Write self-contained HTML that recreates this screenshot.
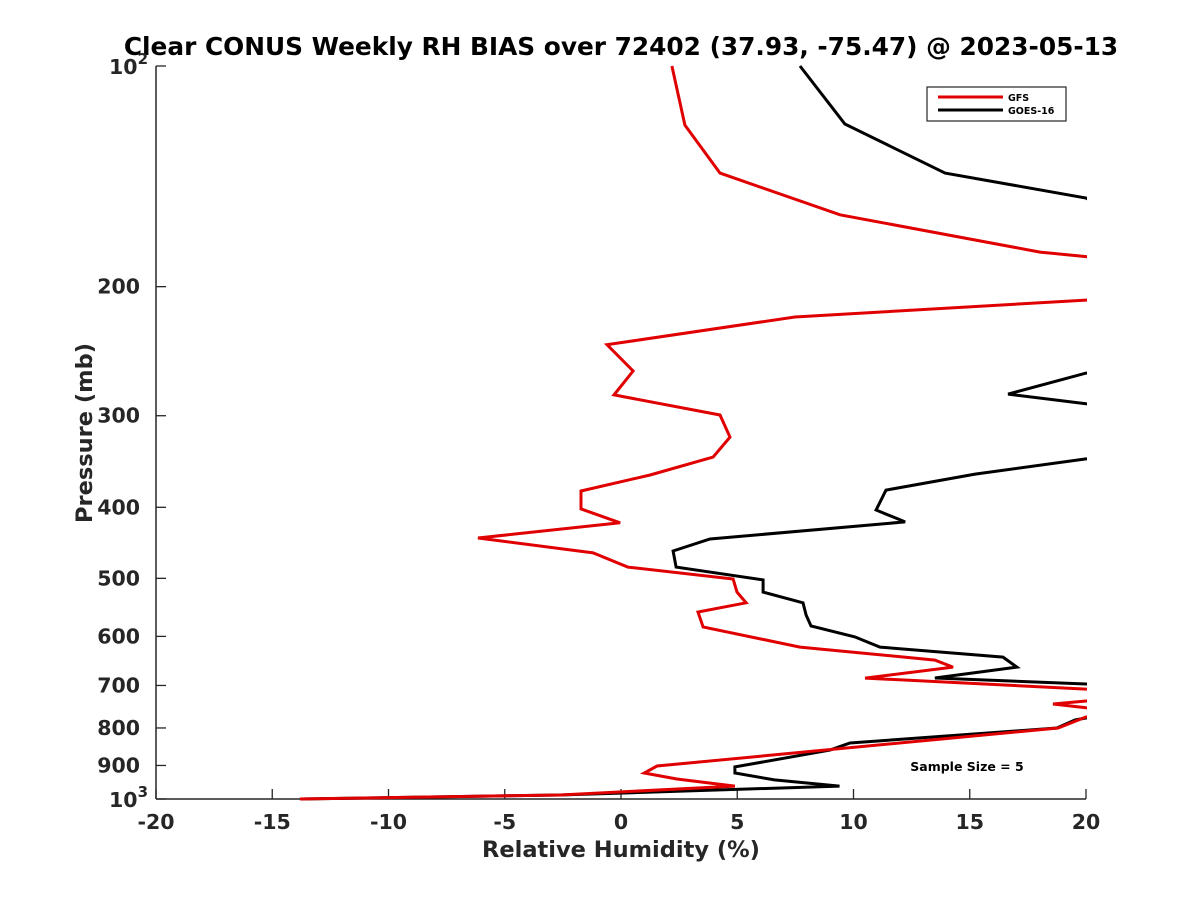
<!DOCTYPE html>
<html><head><meta charset="utf-8"><style>
body{margin:0;background:#fff;}
svg{display:block;font-family:"DejaVu Sans","Liberation Sans",sans-serif;font-weight:bold;}
</style></head><body>
<svg id="chart" width="1200" height="900" viewBox="0 0 1200 900">
<defs><clipPath id="plotclip"><rect x="156" y="60" width="931" height="742"/></clipPath></defs>
<text x="621" y="55" text-anchor="middle" font-size="24.8" fill="#000">Clear CONUS Weekly RH BIAS over 72402 (37.93, -75.47) @ 2023-05-13</text>
<g id="axes"></g>
<g id="series" clip-path="url(#plotclip)"></g>
<text transform="translate(92,433) rotate(-90)" text-anchor="middle" font-size="22.5" fill="#262626">Pressure (mb)</text>
<text x="621" y="857" text-anchor="middle" font-size="22.5" fill="#262626">Relative Humidity (%)</text>
<g>
<rect x="927" y="87" width="139" height="34" fill="#fff" stroke="#262626" stroke-width="1.2"/>
<line x1="938" y1="97" x2="1003" y2="97" stroke="#e00000" stroke-width="3"/>
<text x="1008" y="101" font-size="9.5" fill="#000">GFS</text>
<line x1="938" y1="110" x2="1003" y2="110" stroke="#000" stroke-width="3"/>
<text x="1008" y="114" font-size="9.5" fill="#000">GOES-16</text>
</g>
<text x="967" y="771" text-anchor="middle" font-size="12.5" fill="#000">Sample Size = 5</text>
</svg>
<script>
const xTicks=[-20,-15,-10,-5,0,5,10,15,20];
const yTicks=[100,200,300,400,500,600,700,800,900,1000];
const yTickLabels=["10|2","200","300","400","500","600","700","800","900","10|3"];
const gfsRH=[2.19,2.75,4.26,9.42,18.02,20,26,26,20,7.48,-0.6,0.52,-0.3,4.26,4.69,3.96,1.25,-1.72,-1.72,-0.04,-6.15,-1.2,0.3,4.82,4.99,5.38,3.31,3.53,7.7,13.5,14.28,10.5,20,26,26,20,18.58,20,26,26,20,18.8,1.55,1.0,2.4,4.9,-2.62,-13.81];
const gfsP=[100,120.4,140,159.6,179.4,182,190,205,208.6,220,240,260.7,281,299.3,320.8,341.6,361.4,380,402,420,440.5,461.6,482.6,501,522,540,555.8,582.6,620.5,646.5,660.7,684,708,715,730,735,742,751,760,770,773,800,901.6,921.5,939,960.4,987.5,1000];
const goesRH=[7.7,9.63,13.94,20,26,26,20,16.65,20,26,26,20,15.23,11.4,10.97,12.22,3.83,2.24,2.37,6.11,6.11,7.83,7.96,8.17,10.06,11.14,16.43,17.03,13.5,20,26,26,20,19.53,18.75,9.85,8.99,4.9,4.9,6.6,9.4,-2.62,-13.81];
const goesP=[100,120,140,151.4,200,260,262.4,280.3,289,300,330,343.6,360.4,378.9,403.4,418.8,441.8,458.9,482.6,502.4,522,540,561,580.7,601,620.5,640.4,660.7,683.9,696.7,710,740,775.4,780,800,838.6,857.5,904,921.5,941.9,960.4,987.5,1000];

const X0=156,X1=1086,Y0=66,Y1=799;
function xs(v){return X0+(v+20)/40*(X1-X0);}
function ys(p){return Y0+(Math.log10(p)-2)*(Y1-Y0);}
const NS="http://www.w3.org/2000/svg";
const axes=document.getElementById('axes');
function mk(tag,attrs,parent){const e=document.createElementNS(NS,tag);for(const k in attrs)e.setAttribute(k,attrs[k]);parent.appendChild(e);return e;}
const yl=mk('line',{x1:X0,y1:Y0,x2:X0,y2:Y1,stroke:'#262626','stroke-width':1.5},axes);


const xl=mk('line',{x1:X0,y1:Y1,x2:X1,y2:Y1,stroke:'#262626','stroke-width':1.5},axes);


xTicks.forEach(v=>{
  const x=xs(v);
  mk('line',{x1:x,y1:Y1,x2:x,y2:Y1-10,stroke:'#262626','stroke-width':1.3},axes);
  const t=mk('text',{x:x,y:Y1+30,'text-anchor':'middle','font-size':20.5,fill:'#262626'},axes);
  t.textContent=String(v);
  
  
});
yTicks.forEach((p,i)=>{
  const y=ys(p);
  mk('line',{x1:X0,y1:y,x2:X0+10,y2:y,stroke:'#262626','stroke-width':1.3},axes);
  const lab=yTickLabels[i];
  if(lab.indexOf('|')>=0){
    const parts=lab.split('|');
    const t=mk('text',{x:X0-8,y:y+8,'text-anchor':'end','font-size':20.5,fill:'#262626'},axes);
    const a=mk('tspan',{},t);a.textContent=parts[0];
    const b=mk('tspan',{dy:-10,'font-size':15},t);b.textContent=parts[1];
    
    
  } else {
    const t=mk('text',{x:X0-16,y:y+7,'text-anchor':'end','font-size':20.5,fill:'#262626'},axes);
    t.textContent=lab;
    
    
  }
});
const series=document.getElementById('series');
function drawLine(vals,ps,color,name){
  const pts=vals.map((v,i)=>xs(v).toFixed(1)+','+ys(ps[i]).toFixed(1)).join(' ');
  const pl=mk('polyline',{points:pts,fill:'none',stroke:color,'stroke-width':3,'stroke-linejoin':'miter'},series);
  
  
}
drawLine(goesRH,goesP,'#000','goes16-line');
drawLine(gfsRH,gfsP,'#e00000','gfs-line');
</script>
</body></html>
